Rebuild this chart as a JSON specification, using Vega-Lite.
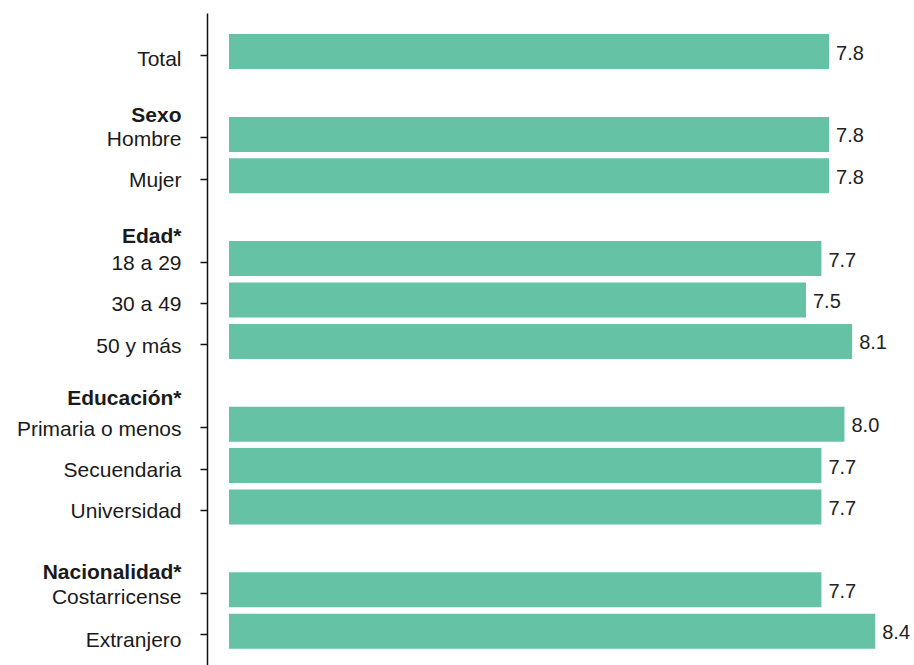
{
  "$schema": "https://vega.github.io/schema/vega-lite/v6.json",
  "autosize": "none",
  "width": 677,
  "height": 652,
  "padding": {"left": 229, "top": 13, "right": 8, "bottom": 0},
  "background": "white",
  "title": {
    "text": "(Promedio en la escala de 0 a 10)",
    "anchor": "start",
    "dx": 36,
    "offset": 9,
    "baseline": "alphabetic",
    "font": "Liberation Sans",
    "fontSize": 24,
    "fontWeight": "bold",
    "color": "#111"
  },
  "data": {
    "values": [
      {"cat": "Total", "valor": 7.8},
      {"cat": "Hombre", "valor": 7.8},
      {"cat": "Mujer", "valor": 7.8},
      {"cat": "18 a 29", "valor": 7.7},
      {"cat": "30 a 49", "valor": 7.5},
      {"cat": "50 y más", "valor": 8.1},
      {"cat": "Primaria o menos", "valor": 8.0},
      {"cat": "Secuendaria", "valor": 7.7},
      {"cat": "Universidad", "valor": 7.7},
      {"cat": "Costarricense", "valor": 7.7},
      {"cat": "Extranjero", "valor": 8.4}
    ]
  },
  "encoding": {
    "y": {
      "field": "cat",
      "type": "nominal",
      "sort": null,
      "scale": {
        "domain": ["Total", "Sexo", "Hombre", "Mujer", "Edad*", "18 a 29", "30 a 49", "50 y más", "Educación*", "Primaria o menos", "Secuendaria", "Universidad", "Nacionalidad*", "Costarricense", "Extranjero"],
        "paddingInner": 0.155,
        "paddingOuter": 0.452,
        "align": 0.564
      },
      "axis": {
        "title": null,
        "offset": 22,
        "domainColor": "#111",
        "domainWidth": 1.5,
        "tickColor": "#111",
        "tickSize": 7,
        "tickWidth": 1.5,
        "tickOffset": 3,
        "labelPadding": 19,
        "labelFont": "Liberation Sans",
        "labelFontSize": 21,
        "labelColor": "#1a1a1a",
        "labelLimit": 300,
        "labelFontWeight": {"condition": {"test": "indexof(['Sexo','Edad*','Educación*','Nacionalidad*'], datum.value) >= 0", "value": "bold"}, "value": "normal"},
        "tickOpacity": {"condition": {"test": "indexof(['Sexo','Edad*','Educación*','Nacionalidad*'], datum.value) >= 0", "value": 0}, "value": 1},
        "labelOffset": {"condition": [
          {"test": "datum.value === 'Sexo'", "value": 20},
          {"test": "datum.value === 'Edad*'", "value": 16},
          {"test": "datum.value === 'Educación*'", "value": 13},
          {"test": "datum.value === 'Nacionalidad*'", "value": 21},
          {"test": "datum.value === 'Costarricense'", "value": 5},
          {"test": "datum.value === 'Extranjero'", "value": 6},
          {"test": "datum.value === 'Total'", "value": 5}
        ], "value": 2}
      }
    },
    "x": {
      "field": "valor",
      "type": "quantitative",
      "scale": {"domain": [0, 8.8], "nice": false},
      "axis": null
    }
  },
  "layer": [
    {"mark": {"type": "bar", "color": "#66c2a5"}},
    {
      "mark": {"type": "text", "align": "left", "baseline": "middle", "dx": 7, "dy": 2, "font": "Liberation Sans", "fontSize": 20, "color": "#222"},
      "encoding": {"text": {"field": "valor", "type": "quantitative", "format": ".1f"}}
    }
  ],
  "config": {"view": {"stroke": null}}
}
